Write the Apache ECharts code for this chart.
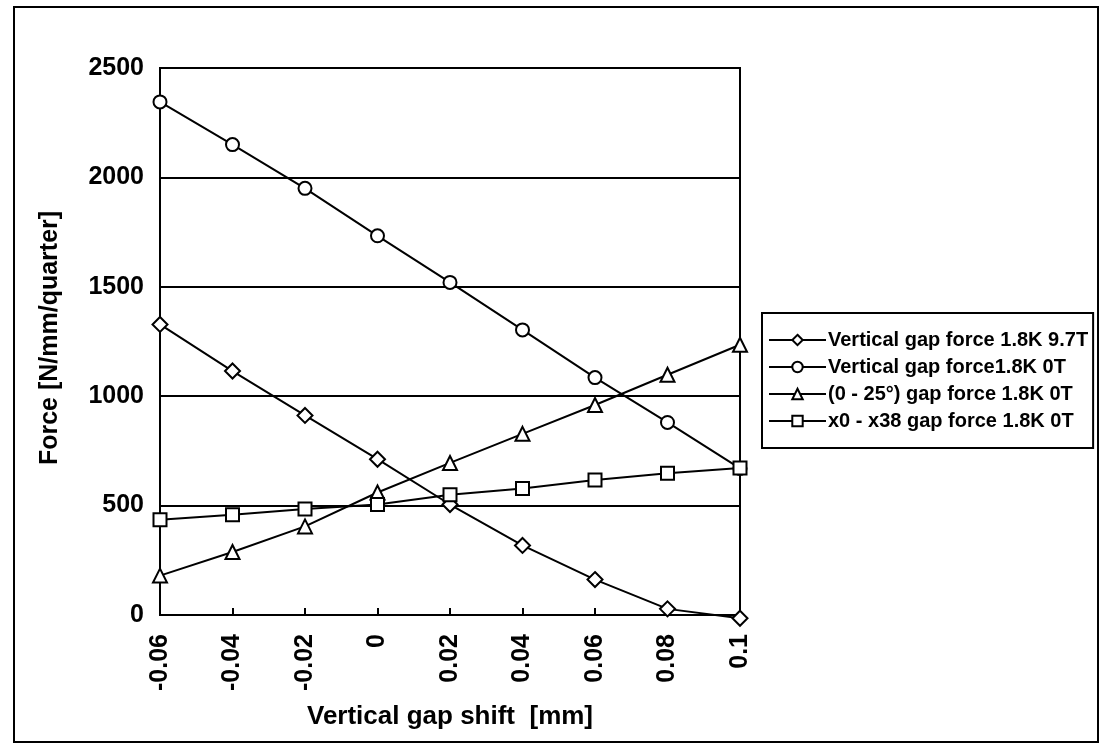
<!DOCTYPE html>
<html>
<head>
<meta charset="utf-8">
<title>Vertical gap force</title>
<script src="https://cdn.jsdelivr.net/npm/echarts@6/dist/echarts.min.js"></script>
<style>
  html, body { margin: 0; padding: 0; background: #fff; }
  #chart { width: 1104px; height: 753px; }
</style>
</head>
<body>
<div id="chart"></div>
<script>
// x categories: vertical gap shift [mm]
const shifts = ['-0.06', '-0.04', '-0.02', '0', '0.02', '0.04', '0.06', '0.08', '0.1'];
// forces [N/mm/quarter]
const force97T = [1328, 1115, 912, 712, 505, 318, 162, 28, -15];
const force0T = [2345, 2150, 1950, 1733, 1520, 1303, 1085, 880, 670];
const force25deg = [180, 288, 405, 560, 695, 828, 960, 1098, 1235];
const forceX38 = [435, 458, 485, 505, 550, 578, 617, 648, 672];
const yTicks = [0, 500, 1000, 1500, 2000, 2500];

const FONT = "'Liberation Sans', Arial, sans-serif";

const symbolSizes = { diamond: 15, circle: 13, triangle: 14, rect: 13 };

const makeSeries = (name, data, symbol) => ({
  name: name,
  type: 'line',
  data: data,
  symbol: symbol,
  symbolSize: symbolSizes[symbol],
  clip: false,
  lineStyle: { color: '#000', width: 2 },
  itemStyle: { color: '#fff', borderColor: '#000', borderWidth: 2 },
  emphasis: { disabled: true }
});

const chart = echarts.init(document.getElementById('chart'));
chart.setOption({
  animation: false,
  backgroundColor: '#fff',
  grid: {
    left: 160, top: 68, width: 580, height: 547,
    show: true, borderColor: '#000', borderWidth: 2
  },
  legend: {
    orient: 'vertical',
    left: 762, top: 313,
    padding: [17, 5, 17, 6],
    borderColor: '#000', borderWidth: 2,
    itemWidth: 57, itemHeight: 13, itemGap: 7,
    textStyle: { fontFamily: FONT, fontWeight: 'bold', fontSize: 20, color: '#000', padding: [0, 0, 0, -3] },
    data: [
      'Vertical gap force 1.8K 9.7T',
      'Vertical gap force1.8K 0T',
      '(0 - 25°) gap force 1.8K 0T',
      'x0 - x38 gap force 1.8K 0T'
    ]
  },
  xAxis: {
    type: 'category',
    data: shifts,
    boundaryGap: false,
    name: 'Vertical gap shift  [mm]',
    nameLocation: 'middle',
    nameGap: 89,
    nameTextStyle: { fontFamily: FONT, fontWeight: 'bold', fontSize: 26, color: '#000' },
    axisLine: { lineStyle: { color: '#000', width: 2 } },
    axisTick: { show: true, inside: true, length: 7, lineStyle: { color: '#000', width: 2 } },
    axisLabel: { rotate: 90, margin: 19, fontFamily: FONT, fontWeight: 'bold', fontSize: 25, color: '#000' },
    splitLine: { show: false }
  },
  yAxis: {
    type: 'value',
    min: yTicks[0],
    max: yTicks[yTicks.length - 1],
    interval: 500,
    axisLine: { show: true, lineStyle: { color: '#000', width: 2 } },
    axisTick: { show: false },
    axisLabel: {
      margin: 16, fontFamily: FONT, fontWeight: 'bold', fontSize: 25, color: '#000',
      formatter: v => String(v)
    },
    splitLine: { lineStyle: { color: '#000', width: 2 } }
  },
  series: [
    makeSeries('Vertical gap force 1.8K 9.7T', force97T, 'diamond'),
    makeSeries('Vertical gap force1.8K 0T', force0T, 'circle'),
    makeSeries('(0 - 25°) gap force 1.8K 0T', force25deg, 'triangle'),
    makeSeries('x0 - x38 gap force 1.8K 0T', forceX38, 'rect')
  ],
  graphic: [
    {
      type: 'rect',
      shape: { x: 14, y: 7, width: 1084, height: 735 },
      style: { fill: 'none', stroke: '#000', lineWidth: 2 }
    },
    {
      type: 'text',
      x: 50, y: 338,
      rotation: Math.PI / 2,
      style: {
        text: 'Force [N/mm/quarter]',
        font: 'bold 25px ' + FONT,
        fill: '#000',
        textAlign: 'center',
        textVerticalAlign: 'middle'
      }
    }
  ]
});
</script>
</body>
</html>
